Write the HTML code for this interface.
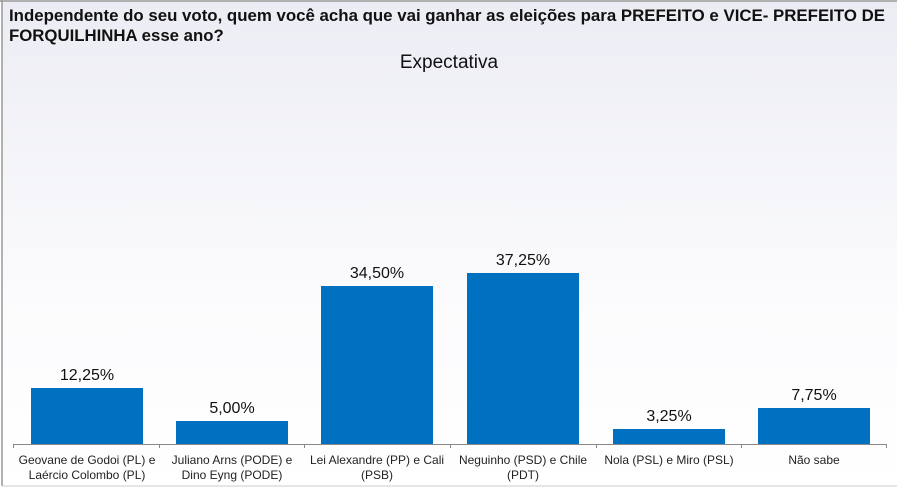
<!DOCTYPE html>
<html><head><meta charset="utf-8"><style>
html,body{margin:0;padding:0;}
body{width:897px;height:489px;overflow:hidden;}
</style></head><body>
<svg width="897" height="489" xmlns="http://www.w3.org/2000/svg" font-family="Liberation Sans, Arial, sans-serif">
<defs><linearGradient id="g" x1="0" y1="0" x2="0" y2="1">
<stop offset="0" stop-color="#ecedf4"/><stop offset="0.6" stop-color="#fbfbfd"/><stop offset="1" stop-color="#ffffff"/></linearGradient></defs>
<rect x="0" y="0" width="897" height="489" fill="#fff"/>
<rect x="2" y="1" width="895" height="485" fill="url(#g)"/>
<line x1="0" y1="1" x2="897" y2="1" stroke="#999" stroke-width="1.5"/>
<line x1="2" y1="0" x2="2" y2="486" stroke="#999" stroke-width="1.5"/>
<line x1="2" y1="486" x2="897" y2="486" stroke="#ccc" stroke-width="1"/>
<g font-weight="bold" font-size="16.8" fill="#111">
<text x="9" y="21" textLength="876" lengthAdjust="spacingAndGlyphs">Independente do seu voto, quem você acha que vai ganhar as eleições para PREFEITO e VICE- PREFEITO DE</text>
<text x="9" y="41">FORQUILHINHA esse ano?</text>
</g>
<text x="449" y="68" font-size="19" text-anchor="middle" fill="#111">Expectativa</text>
<g fill="#0070c0">
<rect x="31" y="388" width="112" height="56"/>
<rect x="176" y="421" width="112" height="23"/>
<rect x="321" y="286" width="112" height="158"/>
<rect x="467" y="273" width="112" height="171"/>
<rect x="613" y="429" width="112" height="15"/>
<rect x="758" y="408" width="112" height="36"/>
</g>
<g stroke="#888" stroke-width="1">
<line x1="13" y1="444.5" x2="887" y2="444.5"/>
<line x1="13.5" y1="444" x2="13.5" y2="448"/>
<line x1="159.5" y1="444" x2="159.5" y2="448"/>
<line x1="304.5" y1="444" x2="304.5" y2="448"/>
<line x1="450.5" y1="444" x2="450.5" y2="448"/>
<line x1="596.5" y1="444" x2="596.5" y2="448"/>
<line x1="741.5" y1="444" x2="741.5" y2="448"/>
<line x1="886.5" y1="444" x2="886.5" y2="448"/>
</g>
<g font-size="16" text-anchor="middle" fill="#111">
<text x="87" y="380">12,25%</text>
<text x="232" y="413">5,00%</text>
<text x="377" y="278">34,50%</text>
<text x="523" y="265">37,25%</text>
<text x="669" y="421">3,25%</text>
<text x="814" y="400">7,75%</text>
</g>
<g font-size="12" text-anchor="middle" fill="#222">
<text x="87" y="464">Geovane de Godoi (PL) e</text><text x="87" y="479">Laércio Colombo (PL)</text>
<text x="232" y="464">Juliano Arns (PODE) e</text><text x="232" y="479">Dino Eyng (PODE)</text>
<text x="377" y="464">Lei Alexandre (PP) e Cali</text><text x="377" y="479">(PSB)</text>
<text x="523" y="464">Neguinho (PSD) e Chile</text><text x="523" y="479">(PDT)</text>
<text x="669" y="464">Nola (PSL) e Miro (PSL)</text>
<text x="814" y="464">Não sabe</text>
</g>
</svg>
</body></html>
